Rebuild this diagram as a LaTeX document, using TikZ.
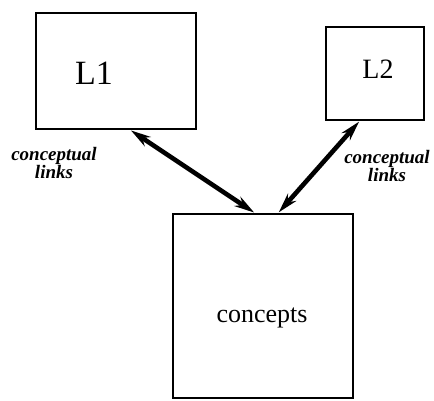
\documentclass[tikz,border=0pt]{standalone}
\usepackage{fontspec}
\setmainfont{Liberation Serif}
\usetikzlibrary{arrows.meta,calc}
\tikzset{
  box/.style={draw, line width=1.8pt, inner sep=0pt},
  boxtext/.style={inner sep=0pt},
  link/.style={line width=4.6pt, {Stealth[length=20pt,width=11pt]}-{Stealth[length=20pt,width=11pt]}, shorten <=1pt, shorten >=1pt},
  lbl/.style={align=center, font=\fontsize{19}{15}\selectfont\bfseries\itshape, inner sep=0pt}
}
\begin{document}
\begin{tikzpicture}[x=1pt,y=-1pt]
  \useasboundingbox (0,0) rectangle (434,400);
  % language boxes and the shared concept store
  \node[box, minimum width=160pt, minimum height=116pt] (L1) at (116,71) {};
  \node[box, minimum width=98pt, minimum height=93pt] (L2) at (375,73.5) {};
  \node[box, minimum width=180pt, minimum height=184pt] (C) at (263,306) {};
  \node[boxtext, font=\fontsize{34}{36}\selectfont] (t1name) at (94,73) {L1};
  \node[boxtext, font=\fontsize{28}{30}\selectfont] (t2name) at (378,69) {L2};
  \node[boxtext, font=\fontsize{26}{28}\selectfont] (ct) at (262,318) {concepts};
  % two-way conceptual links
  \coordinate (a1) at ($(L1.south west)!0.5875!(L1.south east)$);
  \coordinate (a2) at ($(C.north west)!0.456!(C.north east)$);
  \coordinate (b1) at ($(L2.south west)!0.347!(L2.south east)$);
  \coordinate (b2) at ($(C.north west)!0.583!(C.north east)$);
  \draw[link] (a1) -- (a2);
  \draw[link] (b1) -- (b2);
  \node[lbl] (t1) at (54,163) {conceptual\\links};
  \node[lbl] (t2) at (387,166) {conceptual\\links};
\end{tikzpicture}
\end{document}
